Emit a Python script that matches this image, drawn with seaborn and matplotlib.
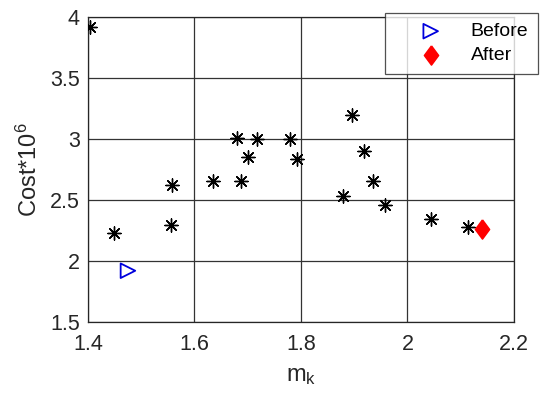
import seaborn as sns
import matplotlib.pyplot as plt
import pandas as pd

# candidate solutions (black asterisks)
mk = [1.404, 1.449, 1.556, 1.558, 1.635, 1.687, 1.680, 1.700, 1.717, 1.779,
      1.792, 1.896, 1.918, 1.935, 1.879, 1.958, 2.044, 2.114]
cost = [3.92, 2.23, 2.295, 2.62, 2.656, 2.656, 3.01, 2.85, 3.00, 3.00,
        2.84, 3.197, 2.90, 2.656, 2.535, 2.455, 2.345, 2.275]

# before / after points
before_mk = [1.475]
before_cost = [1.92]
after_mk = [2.14]
after_cost = [2.26]

sns.set_style("white")
plt.rcParams["font.family"] = ["Liberation Sans", "DejaVu Sans"]
plt.rcParams["mathtext.default"] = "regular"

df = pd.DataFrame({"mk": mk, "cost": cost})

fig = plt.figure(figsize=(5.5, 4.05), dpi=100)
ax = fig.add_axes([0.16, 0.205, 0.7745, 0.753])

# MATLAB-style tall diamond
tall_diamond = [(0, 1), (0.74, 0), (0, -1), (-0.74, 0), (0, 1)]

sns.scatterplot(data=df, x="mk", y="cost", marker=(8, 2, 0), s=90,
                color="black", linewidth=1.0, ax=ax, legend=False, zorder=3)
sns.scatterplot(x=before_mk, y=before_cost, marker=">", s=110,
                facecolor="none", edgecolor="#0000dd", linewidth=1.3,
                ax=ax, label="Before", zorder=3)
sns.scatterplot(x=after_mk, y=after_cost, marker=tall_diamond, s=190,
                color="red", edgecolor="red", ax=ax, label="After", zorder=3)

ax.set_xlim(1.4, 2.2)
ax.set_ylim(1.5, 4)
ax.set_xticks([1.4, 1.6, 1.8, 2.0, 2.2])
ax.set_xticklabels(["1.4", "1.6", "1.8", "2", "2.2"])
ax.set_yticks([1.5, 2, 2.5, 3, 3.5, 4])
ax.set_yticklabels(["1.5", "2", "2.5", "3", "3.5", "4"])
ax.grid(True, color="#333333", linewidth=0.9)
ax.tick_params(length=0, labelsize=15.5, colors="#262626")
ax.tick_params(axis="x", pad=9)
ax.tick_params(axis="y", pad=6)
for sp in ax.spines.values():
    sp.set_color("#262626")
    sp.set_linewidth(0.9)

ax.set_xlabel("$m_k$", fontsize=17, color="#262626", labelpad=7)
ax.set_ylabel("Cost*10$^6$", fontsize=17, color="#262626", labelpad=6)

leg = ax.legend(loc="upper right", bbox_to_anchor=(0.978, 0.968),
                bbox_transform=fig.transFigure, fontsize=14, frameon=True,
                fancybox=False, edgecolor="#262626", handletextpad=0.2,
                borderpad=0.5, labelspacing=0.33, handlelength=3.7,
                borderaxespad=0)
leg.get_frame().set_linewidth(0.9)
for t in leg.get_texts():
    t.set_color("black")

plt.savefig("out.png", dpi=100)
